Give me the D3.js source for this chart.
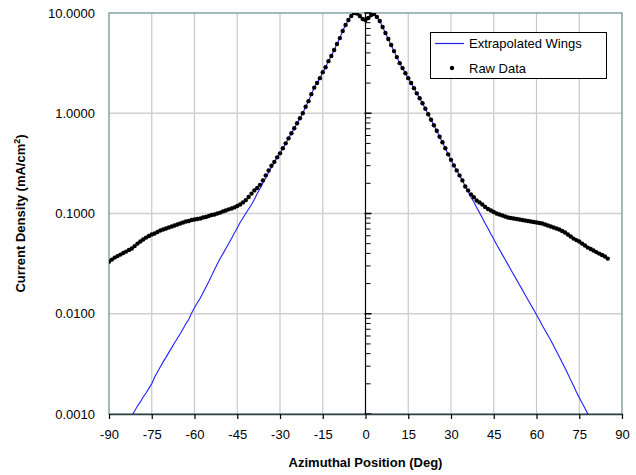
<!DOCTYPE html>
<html><head><meta charset="utf-8">
<script src="https://cdn.jsdelivr.net/npm/d3@7/dist/d3.min.js"></script>
<style>html,body{margin:0;padding:0;background:#fff;}svg{display:block;font-family:"Liberation Sans",Arial,sans-serif;}</style>
</head><body>
<script>
// Raw data: one point per degree from -90 to 85 (mA/cm^2)
const rawStart = -90;
const rawValues = [
0.0331,0.0347,0.0363,0.0376,0.0389,0.0403,0.0417,0.0432,0.0447,0.0473,
0.0501,0.0525,0.0550,0.0575,0.0596,0.0617,0.0631,0.0653,0.0676,0.0692,
0.0708,0.0724,0.0741,0.0759,0.0776,0.0794,0.0813,0.0832,0.0841,0.0861,
0.0871,0.0881,0.0891,0.0912,0.0923,0.0944,0.0966,0.0977,0.100,0.102,
0.105,0.107,0.110,0.112,0.115,0.119,0.123,0.129,0.136,0.146,
0.158,0.170,0.180,0.193,0.214,0.240,0.269,0.299,0.327,0.363,
0.398,0.447,0.501,0.562,0.631,0.708,0.794,0.891,1.00,1.16,
1.32,1.55,1.80,2.00,2.24,2.57,2.88,3.31,3.72,4.27,
4.90,5.62,6.61,7.59,8.51,9.33,10.0,9.89,9.33,8.71,
8.51,8.91,9.55,9.77,9.12,8.32,7.24,6.31,5.50,4.79,
4.17,3.63,3.16,2.82,2.51,2.24,2.00,1.78,1.58,1.41,
1.26,1.11,0.977,0.861,0.759,0.668,0.583,0.513,0.447,0.389,
0.343,0.302,0.269,0.240,0.214,0.186,0.170,0.155,0.145,0.135,
0.129,0.123,0.116,0.111,0.107,0.1035,0.100,0.0977,0.0955,0.0933,
0.0912,0.0902,0.0891,0.0881,0.0871,0.0861,0.0851,0.0841,0.0832,0.0822,
0.0813,0.0804,0.0794,0.0776,0.0759,0.0741,0.0724,0.0708,0.0692,0.0668,
0.0646,0.0617,0.0589,0.0562,0.0543,0.0525,0.0501,0.0479,0.0457,0.0442,
0.0427,0.0412,0.0398,0.0385,0.0372,0.0355
];
// Extrapolated wings (one point per degree)
const wingLeftStart = -82;   // -82 .. -31
const wingLeftValues = [
0.000955,0.00107,0.00120,0.00132,0.00148,0.00162,0.00180,0.00200,0.00232,0.00263,
0.00295,0.00331,0.00367,0.00412,0.00457,0.00513,0.00569,0.00631,0.00708,0.00794,
0.00881,0.0102,0.0115,0.0129,0.0143,0.0162,0.0184,0.0209,0.0240,0.0275,
0.0313,0.0355,0.0398,0.0447,0.0501,0.0562,0.0638,0.0716,0.0813,0.0902,
0.100,0.111,0.123,0.138,0.158,0.178,0.202,0.226,0.257,0.288,
0.324,0.363
];
const wingRightStart = 36;   // 36 .. 79
const wingRightValues = [
0.166,0.146,0.130,0.115,0.102,0.0902,0.0794,0.0708,0.0624,0.0556,
0.0490,0.0437,0.0389,0.0347,0.0309,0.0275,0.0245,0.0219,0.0195,0.0174,
0.0155,0.0138,0.0123,0.0110,0.00977,0.00871,0.00767,0.00684,0.00610,0.00543,
0.00479,0.00422,0.00372,0.00327,0.00288,0.00251,0.00219,0.00191,0.00166,0.00146,
0.00129,0.00114,0.00100,0.00087
];
const xTicks = [-90,-75,-60,-45,-30,-15,0,15,30,45,60,75,90];
const yTicks = [0.001,0.01,0.1,1,10];
const yTickLabels = ["0.0010","0.0100","0.1000","1.0000","10.0000"];

const W = 636, H = 475;
const L = 109, R = 622, T = 13, B = 414;

const raw = rawValues.map((v,i)=>({x: rawStart+i, y: v}));
const wl = wingLeftValues.map((v,i)=>({x: wingLeftStart+i, y: v}));
const wr = wingRightValues.map((v,i)=>({x: wingRightStart+i, y: v}));
const center = raw.filter(d => d.x > -31 && d.x < 36);
const blue = wl.concat(center, wr);

const x = d3.scaleLinear().domain([-90,90]).range([L,R]);
const y = d3.scaleLog().domain([0.001,10]).range([B,T]);

const svg = d3.select("body").append("svg").attr("width",W).attr("height",H);
svg.append("defs").append("clipPath").attr("id","clip")
  .append("rect").attr("x",L).attr("y",T).attr("width",R-L).attr("height",B-T);

// gridlines
const grid = svg.append("g");
grid.selectAll("line.gx").data(xTicks.filter(t=>t!==-90 && t!==90 && t!==0)).join("line")
  .attr("x1",d=>x(d)).attr("x2",d=>x(d)).attr("y1",T).attr("y2",B)
  .attr("stroke","#c8c8c8").attr("stroke-width",1.2);
grid.selectAll("line.gy").data(yTicks.filter(t=>t>0.001 && t<10)).join("line")
  .attr("x1",L).attr("x2",R).attr("y1",d=>y(d)).attr("y2",d=>y(d))
  .attr("stroke","#d0d0d0").attr("stroke-width",1.5);

// border
svg.append("rect").attr("x",L).attr("y",T).attr("width",R-L).attr("height",B-T)
  .attr("fill","none").attr("stroke","#6a8a8c").attr("stroke-width",1.2);

// center vertical axis with log ticks
const cx = x(0);
const axisG = svg.append("g");
axisG.append("line").attr("x1",cx).attr("x2",cx).attr("y1",T).attr("y2",B)
  .attr("stroke","#000").attr("stroke-width",1.2);
const minor = [];
[0.001,0.01,0.1,1].forEach(dec=>{ for(let k=2;k<=9;k++) minor.push(dec*k); });
axisG.selectAll("line.mn").data(minor).join("line")
  .attr("x1",cx).attr("x2",cx+5).attr("y1",d=>y(d)).attr("y2",d=>y(d))
  .attr("stroke","#000").attr("stroke-width",1);
axisG.selectAll("line.mj").data(yTicks).join("line")
  .attr("x1",cx-1).attr("x2",cx+6).attr("y1",d=>y(d)).attr("y2",d=>y(d))
  .attr("stroke","#000").attr("stroke-width",1.5);

// bottom axis
const xAxis = d3.axisBottom(x).tickValues(xTicks).tickSize(5).tickSizeOuter(0).tickFormat(d=>d);
const gx = svg.append("g").attr("transform",`translate(0,${B})`).call(xAxis);
gx.select(".domain").attr("stroke","#2f3f3f").attr("stroke-width",1.5);
gx.selectAll(".tick line").attr("stroke","#000").attr("stroke-width",1.2);
gx.selectAll(".tick text").attr("font-size",13).attr("fill","#000").attr("dy","1.3em")
  .attr("font-family","'Liberation Sans',Arial,sans-serif");

// left y labels
const yAxis = d3.axisLeft(y).tickValues(yTicks).tickSize(0).tickFormat((d,i)=>yTickLabels[i]);
const gy = svg.append("g").attr("transform",`translate(${L-11},0)`).call(yAxis);
gy.select(".domain").remove();
gy.selectAll(".tick text").attr("font-size",13).attr("fill","#000")
  .attr("font-family","'Liberation Sans',Arial,sans-serif");

// blue line
const lineGen = d3.line().x(d=>x(d.x)).y(d=>y(d.y));
svg.append("path").datum(blue).attr("clip-path","url(#clip)")
  .attr("d",lineGen).attr("fill","none").attr("stroke","#1f1fff").attr("stroke-width",1.1);

// raw data dots
svg.append("g").attr("clip-path","url(#clip)").selectAll("circle").data(raw).join("circle")
  .attr("cx",d=>x(d.x)).attr("cy",d=>y(d.y)).attr("r",2.2).attr("fill","#000");

// legend
const lg = svg.append("g");
lg.append("rect").attr("x",430.5).attr("y",32.5).attr("width",176).attr("height",46)
  .attr("fill","#fff").attr("stroke","#000").attr("stroke-width",1);
lg.append("line").attr("x1",435).attr("x2",464).attr("y1",43.5).attr("y2",43.5)
  .attr("stroke","#1f1fff").attr("stroke-width",1.2);
lg.append("circle").attr("cx",452).attr("cy",68).attr("r",2.2).attr("fill","#000");
lg.append("text").attr("x",469).attr("y",48).attr("font-size",13).text("Extrapolated Wings");
lg.append("text").attr("x",469).attr("y",73).attr("font-size",13).text("Raw Data");

// axis titles
svg.append("text").attr("x",(L+R)/2).attr("y",467).attr("text-anchor","middle")
  .attr("font-size",13).attr("font-weight","bold").text("Azimuthal Position (Deg)");
const yt = svg.append("text").attr("transform",`translate(25,${(T+B)/2}) rotate(-90)`)
  .attr("text-anchor","middle").attr("font-size",13).attr("font-weight","bold");
yt.append("tspan").text("Current Density (mA/cm");
yt.append("tspan").attr("font-size",9).attr("dy",-5).text("2");
yt.append("tspan").attr("dy",5).text(")");
</script>
</body></html>
